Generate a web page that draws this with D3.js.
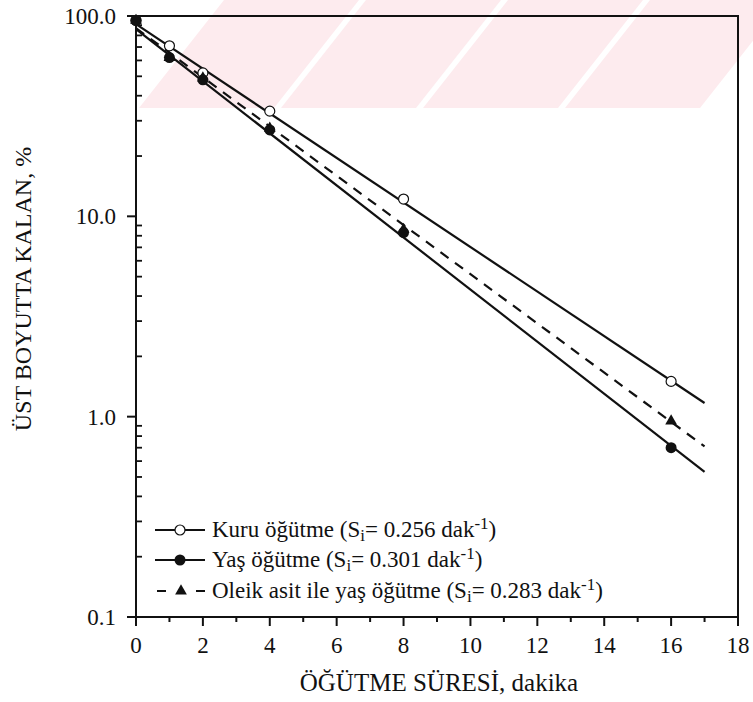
<!DOCTYPE html>
<html><head><meta charset="utf-8">
<script src="https://cdn.jsdelivr.net/npm/d3@7"></script>
<style>body{margin:0;background:#fff}svg{display:block}text{font-family:"Liberation Serif","Times New Roman",serif;fill:#111}</style>
</head><body>
<script>
// ---- data ----
const times = [0, 1, 2, 4, 8, 16];
const kuru  = [95, 71, 52, 33.5, 12.2, 1.5];   // open circles
const yas   = [95, 62, 48, 27, 8.3, 0.70];     // filled circles
const oleik = [95, 62, 49, 27.5, 8.6, 0.95];   // triangles
const fitT = [0, 17];
const kuruFit  = [91, 1.17];
const yasFit   = [86, 0.53];
const oleikFit = [87, 0.71];
const xTicks = [0, 2, 4, 6, 8, 10, 12, 14, 16, 18];
const yTicks = [0.1, 1, 10, 100];
const yTickLabels = ["0.1", "1.0", "10.0", "100.0"];
const legendLabels = [
  ["Kuru öğütme (S", "i", "= 0.256 dak", "-1", ")"],
  ["Yaş öğütme (S", "i", "= 0.301 dak", "-1", ")"],
  ["Oleik asit ile yaş öğütme (S", "i", "= 0.283 dak", "-1", ")"]
];
const xTitle = "ÖĞÜTME SÜRESİ, dakika";
const yTitle = "ÜST BOYUTTA KALAN, %";

const W = 753, H = 702;
const svg = d3.select("body").append("svg").attr("width", W).attr("height", H);

// watermark stripes (decoration)
const wm = svg.append("g").attr("fill", "#fdebee");
[139, 281, 423, 565].forEach(b => {
  wm.append("path").attr("d", `M${b},108 L${b+135},108 L${b+220},0 L${b+85},0 Z`);
});

const x = d3.scaleLinear().domain([0, 18]).range([136, 738]);
const y = d3.scaleLog().domain([0.1, 100]).range([617, 16]);

// frame
svg.append("rect").attr("x", x(0)).attr("y", y(100)).attr("width", x(18) - x(0)).attr("height", y(0.1) - y(100))
  .attr("fill", "none").attr("stroke", "#111").attr("stroke-width", 2);

// x axis ticks (outward)
const xAll = d3.range(0, 19);
svg.append("g").selectAll("line").data(xAll).join("line")
  .attr("x1", d => x(d)).attr("x2", d => x(d))
  .attr("y1", y(0.1)).attr("y2", d => y(0.1) + (d % 2 === 0 ? 9 : 5))
  .attr("stroke", "#111").attr("stroke-width", 2);
svg.append("g").selectAll("text").data(xTicks).join("text")
  .attr("x", d => x(d)).attr("y", 653).attr("text-anchor", "middle")
  .attr("font-size", 23).text(d => d);

// y axis ticks
svg.append("g").selectAll("line").data(yTicks).join("line")
  .attr("x1", x(0) - 9).attr("x2", x(0)).attr("y1", d => y(d)).attr("y2", d => y(d))
  .attr("stroke", "#111").attr("stroke-width", 2);
const minors = [];
[0.1, 1, 10].forEach(dec => { for (let k = 2; k <= 9; k++) minors.push(dec * k); });
svg.append("g").selectAll("line").data(minors).join("line")
  .attr("x1", x(0)).attr("x2", x(0) + 6).attr("y1", d => y(d)).attr("y2", d => y(d))
  .attr("stroke", "#111").attr("stroke-width", 1.8);
svg.append("g").selectAll("text").data(yTicks).join("text")
  .attr("x", 116).attr("y", d => y(d) + 8).attr("text-anchor", "end")
  .attr("font-size", 23).text((d, i) => yTickLabels[i]);

// titles
svg.append("text").attr("x", 439).attr("y", 691).attr("text-anchor", "middle").attr("font-size", 25).text(xTitle);
svg.append("text").attr("transform", "translate(31,289) rotate(-90)").attr("text-anchor", "middle").attr("font-size", 24).text(yTitle);

// fit lines
const line = d3.line().x(d => x(d[0])).y(d => y(d[1]));
const fits = [[kuruFit, null], [yasFit, null], [oleikFit, "10,8"]];
fits.forEach(([f, dash]) => {
  svg.append("path").attr("d", line(fitT.map((t, i) => [t, f[i]])))
    .attr("fill", "none").attr("stroke", "#111").attr("stroke-width", 2.2)
    .attr("stroke-dasharray", dash);
});

// markers
const tri = d3.symbol().type(d3.symbolTriangle).size(60);
svg.append("g").selectAll("circle").data(times.map((t, i) => [t, kuru[i]])).join("circle")
  .attr("cx", d => x(d[0])).attr("cy", d => y(d[1])).attr("r", 5).attr("fill", "#fff")
  .attr("stroke", "#111").attr("stroke-width", 1.2);
svg.append("g").selectAll("path").data(times.map((t, i) => [t, oleik[i]])).join("path")
  .attr("d", tri).attr("transform", d => `translate(${x(d[0])},${y(d[1])})`).attr("fill", "#111");
svg.append("g").selectAll("circle").data(times.map((t, i) => [t, yas[i]])).join("circle")
  .attr("cx", d => x(d[0])).attr("cy", d => y(d[1])).attr("r", 5.5).attr("fill", "#111");

// legend
const ly = [530, 560, 591];
const lg = svg.append("g");
lg.append("line").attr("x1", 155).attr("x2", 205).attr("y1", ly[0]).attr("y2", ly[0]).attr("stroke", "#111").attr("stroke-width", 2);
lg.append("circle").attr("cx", 180).attr("cy", ly[0]).attr("r", 5).attr("fill", "#fff").attr("stroke", "#111").attr("stroke-width", 1.2);
lg.append("line").attr("x1", 155).attr("x2", 205).attr("y1", ly[1]).attr("y2", ly[1]).attr("stroke", "#111").attr("stroke-width", 2);
lg.append("circle").attr("cx", 180).attr("cy", ly[1]).attr("r", 5.5).attr("fill", "#111");
lg.append("line").attr("x1", 157).attr("x2", 166).attr("y1", ly[2]).attr("y2", ly[2]).attr("stroke", "#111").attr("stroke-width", 2);
lg.append("line").attr("x1", 196).attr("x2", 205).attr("y1", ly[2]).attr("y2", ly[2]).attr("stroke", "#111").attr("stroke-width", 2);
lg.append("path").attr("d", tri).attr("transform", `translate(181,${ly[2]})`).attr("fill", "#111");
legendLabels.forEach((parts, i) => {
  const t = lg.append("text").attr("x", 212).attr("y", ly[i] + 7).attr("font-size", 23);
  t.append("tspan").text(parts[0]);
  t.append("tspan").attr("font-size", 17).attr("dy", 4).text(parts[1]);
  t.append("tspan").attr("dy", -4).text(parts[2]);
  t.append("tspan").attr("font-size", 17).attr("dy", -8).text(parts[3]);
  t.append("tspan").attr("dy", 8).text(parts[4]);
});
</script>
</body></html>
